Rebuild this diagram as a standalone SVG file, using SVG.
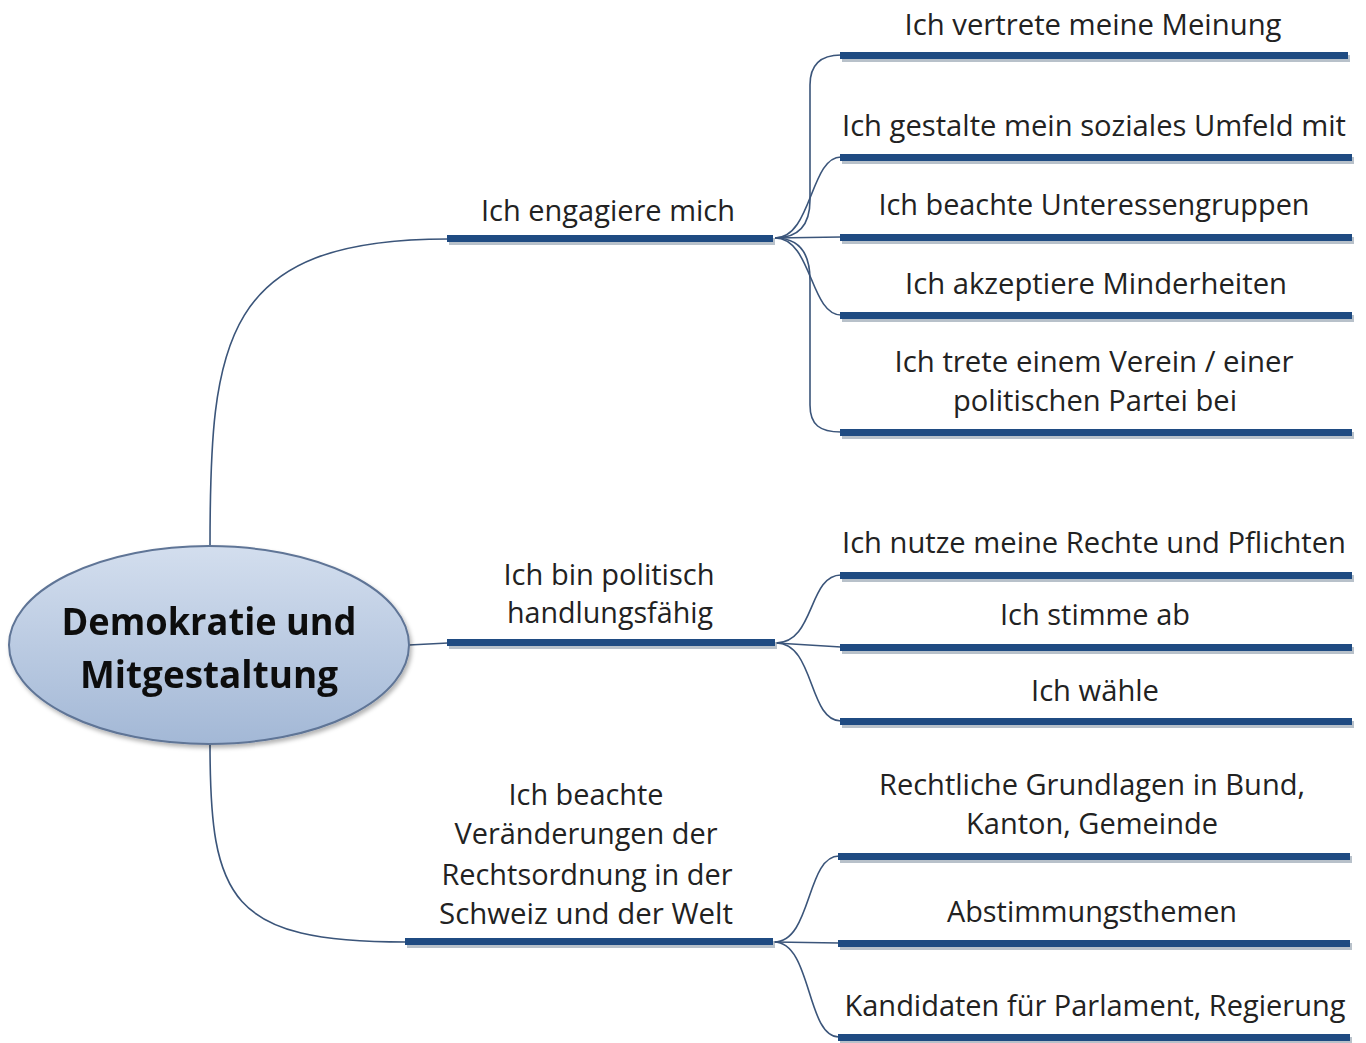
<svg xmlns="http://www.w3.org/2000/svg" width="1366" height="1043" viewBox="0 0 1366 1043">
<defs>
<linearGradient id="eg" x1="0" y1="0" x2="0" y2="1">
<stop offset="0" stop-color="#d3deee"/>
<stop offset="1" stop-color="#a3b8d6"/>
</linearGradient>
<filter id="sh" x="-5%" y="-5%" width="115%" height="120%">
<feGaussianBlur in="SourceAlpha" stdDeviation="2"/>
<feOffset dx="2" dy="3" result="b"/>
<feFlood flood-color="#000" flood-opacity="0.3"/>
<feComposite in2="b" operator="in"/>
<feMerge><feMergeNode/><feMergeNode in="SourceGraphic"/></feMerge>
</filter>
</defs>
<style>
.t{font-family:"Open Sans","Noto Sans",sans-serif;font-size:28.5px;fill:#222;text-anchor:middle}
.c{font-family:"Open Sans","Noto Sans",sans-serif;font-size:38px;font-weight:bold;fill:#111;text-anchor:middle}
.bar{fill:#1f4b82}
.bs{fill:#9aa6b4;opacity:0.7}
.ln{fill:none;stroke:#3b557a;stroke-width:1.6}
</style>
<rect width="1366" height="1043" fill="#fff"/>
<g id="connectors">
<path class="ln" d="M210,547 C210,340 222,239 448,239"/>
<path class="ln" d="M409,645 L448,643"/>
<path class="ln" d="M210,744 C210,900 230,942 406,942"/>
<path class="ln" d="M775,238 C798,238 810,225 810,200 L810,85 C810,65 820,55 841,55"/>
<path class="ln" d="M775,238 C812,238 810,157 841,157"/>
<path class="ln" d="M775,238 L841,237"/>
<path class="ln" d="M775,238 C812,238 810,315 841,315"/>
<path class="ln" d="M775,238 C798,238 810,252 810,280 L810,405 C810,425 820,432 841,432"/>
<path class="ln" d="M776,643 C815,643 808,575 841,575"/>
<path class="ln" d="M776,643 L841,647"/>
<path class="ln" d="M776,643 C815,643 808,721 841,721"/>
<path class="ln" d="M774,942 C812,942 806,856 839,856"/>
<path class="ln" d="M774,942 L839,943"/>
<path class="ln" d="M774,942 C812,942 806,1037 839,1037"/>
</g>
<g id="center" filter="url(#sh)">
<ellipse cx="209" cy="645" rx="200" ry="99" fill="url(#eg)" stroke="#5f7496" stroke-width="2"/>
<text class="c" x="209" y="635" textLength="295" lengthAdjust="spacingAndGlyphs">Demokratie und</text>
<text class="c" x="209" y="688" textLength="258" lengthAdjust="spacingAndGlyphs">Mitgestaltung</text>
</g>
<g id="n1">
<rect class="bs" x="449" y="238" width="326" height="7"/><rect class="bar" x="447" y="235" width="326" height="7"/>
<text class="t" x="608" y="221" textLength="254" lengthAdjust="spacingAndGlyphs">Ich engagiere mich</text>
</g>
<g id="n2">
<rect class="bs" x="449" y="642" width="328" height="7"/><rect class="bar" x="447" y="639" width="328" height="7"/>
<text class="t" x="609" y="585" textLength="211" lengthAdjust="spacingAndGlyphs">Ich bin politisch</text>
<text class="t" x="610" y="623" textLength="206" lengthAdjust="spacingAndGlyphs">handlungsfähig</text>
</g>
<g id="n3">
<rect class="bs" x="407" y="941" width="368" height="7"/><rect class="bar" x="405" y="938" width="368" height="7"/>
<text class="t" x="586" y="805" textLength="155" lengthAdjust="spacingAndGlyphs">Ich beachte</text>
<text class="t" x="586" y="844" textLength="263" lengthAdjust="spacingAndGlyphs">Veränderungen der</text>
<text class="t" x="587" y="885" textLength="291" lengthAdjust="spacingAndGlyphs">Rechtsordnung in der</text>
<text class="t" x="586" y="924" textLength="294" lengthAdjust="spacingAndGlyphs">Schweiz und der Welt</text>
</g>
<g id="n1a">
<rect class="bs" x="842" y="55" width="508" height="7"/><rect class="bar" x="840" y="52" width="508" height="7"/>
<text class="t" x="1093" y="35" textLength="377" lengthAdjust="spacingAndGlyphs">Ich vertrete meine Meinung</text>
</g>
<g id="n1b">
<rect class="bs" x="842" y="157" width="512" height="7"/><rect class="bar" x="840" y="154" width="512" height="7"/>
<text class="t" x="1094" y="136" textLength="504" lengthAdjust="spacingAndGlyphs">Ich gestalte mein soziales Umfeld mit</text>
</g>
<g id="n1c">
<rect class="bs" x="842" y="237" width="512" height="7"/><rect class="bar" x="840" y="234" width="512" height="7"/>
<text class="t" x="1094" y="215" textLength="431" lengthAdjust="spacingAndGlyphs">Ich beachte Unteressengruppen</text>
</g>
<g id="n1d">
<rect class="bs" x="842" y="315" width="512" height="7"/><rect class="bar" x="840" y="312" width="512" height="7"/>
<text class="t" x="1096" y="294" textLength="382" lengthAdjust="spacingAndGlyphs">Ich akzeptiere Minderheiten</text>
</g>
<g id="n1e">
<rect class="bs" x="842" y="432" width="512" height="7"/><rect class="bar" x="840" y="429" width="512" height="7"/>
<text class="t" x="1094" y="372" textLength="399" lengthAdjust="spacingAndGlyphs">Ich trete einem Verein / einer</text>
<text class="t" x="1095" y="411" textLength="284" lengthAdjust="spacingAndGlyphs">politischen Partei bei</text>
</g>
<g id="n2a">
<rect class="bs" x="842" y="575" width="512" height="7"/><rect class="bar" x="840" y="572" width="512" height="7"/>
<text class="t" x="1094" y="553" textLength="504" lengthAdjust="spacingAndGlyphs">Ich nutze meine Rechte und Pflichten</text>
</g>
<g id="n2b">
<rect class="bs" x="842" y="647" width="512" height="7"/><rect class="bar" x="840" y="644" width="512" height="7"/>
<text class="t" x="1095" y="625" textLength="190" lengthAdjust="spacingAndGlyphs">Ich stimme ab</text>
</g>
<g id="n2c">
<rect class="bs" x="842" y="721" width="512" height="7"/><rect class="bar" x="840" y="718" width="512" height="7"/>
<text class="t" x="1095" y="701" textLength="128" lengthAdjust="spacingAndGlyphs">Ich wähle</text>
</g>
<g id="n3a">
<rect class="bs" x="840" y="856" width="512" height="7"/><rect class="bar" x="838" y="853" width="512" height="7"/>
<text class="t" x="1092" y="795" textLength="426" lengthAdjust="spacingAndGlyphs">Rechtliche Grundlagen in Bund,</text>
<text class="t" x="1092" y="834" textLength="252" lengthAdjust="spacingAndGlyphs">Kanton, Gemeinde</text>
</g>
<g id="n3b">
<rect class="bs" x="840" y="943" width="512" height="7"/><rect class="bar" x="838" y="940" width="512" height="7"/>
<text class="t" x="1092" y="922" textLength="290" lengthAdjust="spacingAndGlyphs">Abstimmungsthemen</text>
</g>
<g id="n3c">
<rect class="bs" x="840" y="1037" width="512" height="7"/><rect class="bar" x="838" y="1034" width="512" height="7"/>
<text class="t" x="1095" y="1016" textLength="501" lengthAdjust="spacingAndGlyphs">Kandidaten für Parlament, Regierung</text>
</g>
</svg>
